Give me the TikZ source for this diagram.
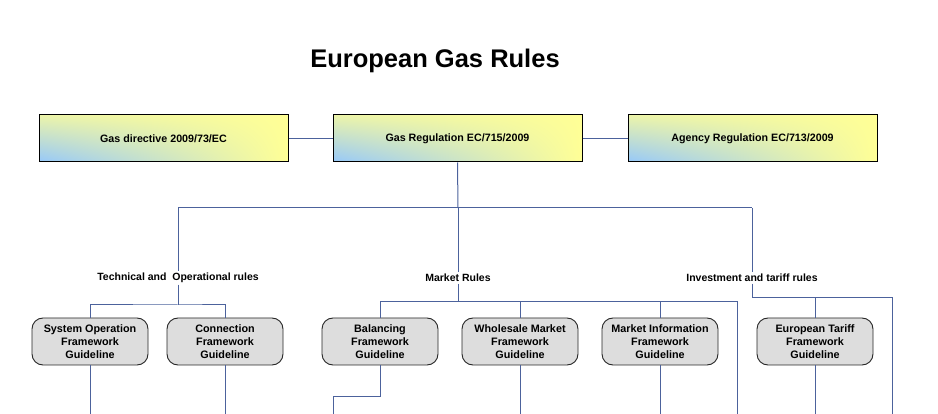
\documentclass[tikz,border=0pt]{standalone}
\usepackage{fontspec}
\setmainfont{Liberation Sans}
\usetikzlibrary{shadings}
\definecolor{linec}{RGB}{76,98,156}
\definecolor{gbox}{RGB}{221,221,221}
\definecolor{yel}{RGB}{255,255,150}
\definecolor{yelg}{RGB}{236,244,170}
\definecolor{blu}{RGB}{150,200,250}
\begin{document}
\begin{tikzpicture}[x=1pt,y=-1pt,
  conn/.style={draw=linec,line width=1pt},
  topbox/.style={draw=black,line width=1pt,minimum width=249pt,minimum height=47pt,
    shading=bilinear interpolation,lower left=blu,upper left=yelg,upper right=yel,lower right=yel,
    font=\bfseries\fontsize{10.7}{12}\selectfont},
  fwbox/.style={draw=black!85,line width=0.9pt,fill=gbox,rounded corners=11pt,minimum width=116pt,minimum height=47pt,
    align=center,inner sep=1pt,font=\bfseries\fontsize{10.8}{13}\selectfont},
  grplabel/.style={inner sep=1.5pt,font=\bfseries\fontsize{10.5}{12}\selectfont}]
\useasboundingbox (0,0) rectangle (938,414);
\node[font=\bfseries\fontsize{25.5}{30}\selectfont] (title) at (435,60.5) {European Gas Rules};
\node[topbox] (g1) at (163.5,138.5) {Gas directive 2009/73/EC};
\node[topbox] (g2) at (457.5,138.5) {Gas Regulation EC/715/2009};
\node[topbox] (g3) at (752.5,138.5) {Agency Regulation EC/713/2009};
\draw[conn] (g1.east) -- (g2.west);
\draw[conn] (g2.east) -- (g3.west);
\coordinate (h1) at (178,208);
\coordinate (hm) at (458,208);
\coordinate (h3) at (752,208);
\draw[conn] (g2.south) -- (hm);
\draw[conn] (h1) -- (h3);
\node[grplabel] (l1) at (178,278) {Technical and\ \ Operational rules};
\node[grplabel] (l2) at (458,278) {Market Rules};
\node[grplabel] (l3) at (752,278) {Investment and tariff rules};
\draw[conn] (h1) -- (l1.north);
\draw[conn] (hm) -- (l2.north);
\draw[conn] (h3) -- (l3.north);
% boxes
\node[fwbox] (b1) at (90,341.5) {System Operation\\Framework\\Guideline};
\node[fwbox] (b2) at (225,341.5) {Connection\\Framework\\Guideline};
\node[fwbox] (b3) at (380,341.5) {Balancing\\Framework\\Guideline};
\node[fwbox] (b4) at (520,341.5) {Wholesale Market\\Framework\\Guideline};
\node[fwbox] (b5) at (660,341.5) {Market Information\\Framework\\Guideline};
\node[fwbox] (b6) at (815,341.5) {European Tariff\\Framework\\Guideline};
% technical group
\coordinate (t1) at (178,305);
\draw[conn] (l1.south) -- (t1);
\draw[conn] (b1.north) |- (t1) -| (b2.north);
% market group
\coordinate (t2) at (458,302);
\coordinate (t2e) at (737,302);
\coordinate (t2end) at (737,414);
\draw[conn] (l2.south) -- (t2);
\draw[conn] (b3.north) |- (t2e) -- (t2end);
\draw[conn] (b4.north) -- (b4.north |- t2);
\draw[conn] (b5.north) -- (b5.north |- t2);
% investment group
\coordinate (t3) at (752,298);
\coordinate (t3e) at (892,298);
\coordinate (t3end) at (892,414);
\draw[conn] (l3.south) -- (t3) -- (t3e) -- (t3end);
\draw[conn] (b6.north) -- (b6.north |- t3);
% lines below boxes
\coordinate (d1) at (90,414);
\coordinate (d2) at (225,414);
\coordinate (d3a) at (380,396);
\coordinate (d3b) at (333,396);
\coordinate (d3) at (333,414);
\coordinate (d4) at (520,414);
\coordinate (d5) at (660,414);
\coordinate (d6) at (815,414);
\draw[conn] (b1.south) -- (d1);
\draw[conn] (b2.south) -- (d2);
\draw[conn] (b3.south) -- (d3a) -- (d3b) -- (d3);
\draw[conn] (b4.south) -- (d4);
\draw[conn] (b5.south) -- (d5);
\draw[conn] (b6.south) -- (d6);
\end{tikzpicture}
\end{document}
